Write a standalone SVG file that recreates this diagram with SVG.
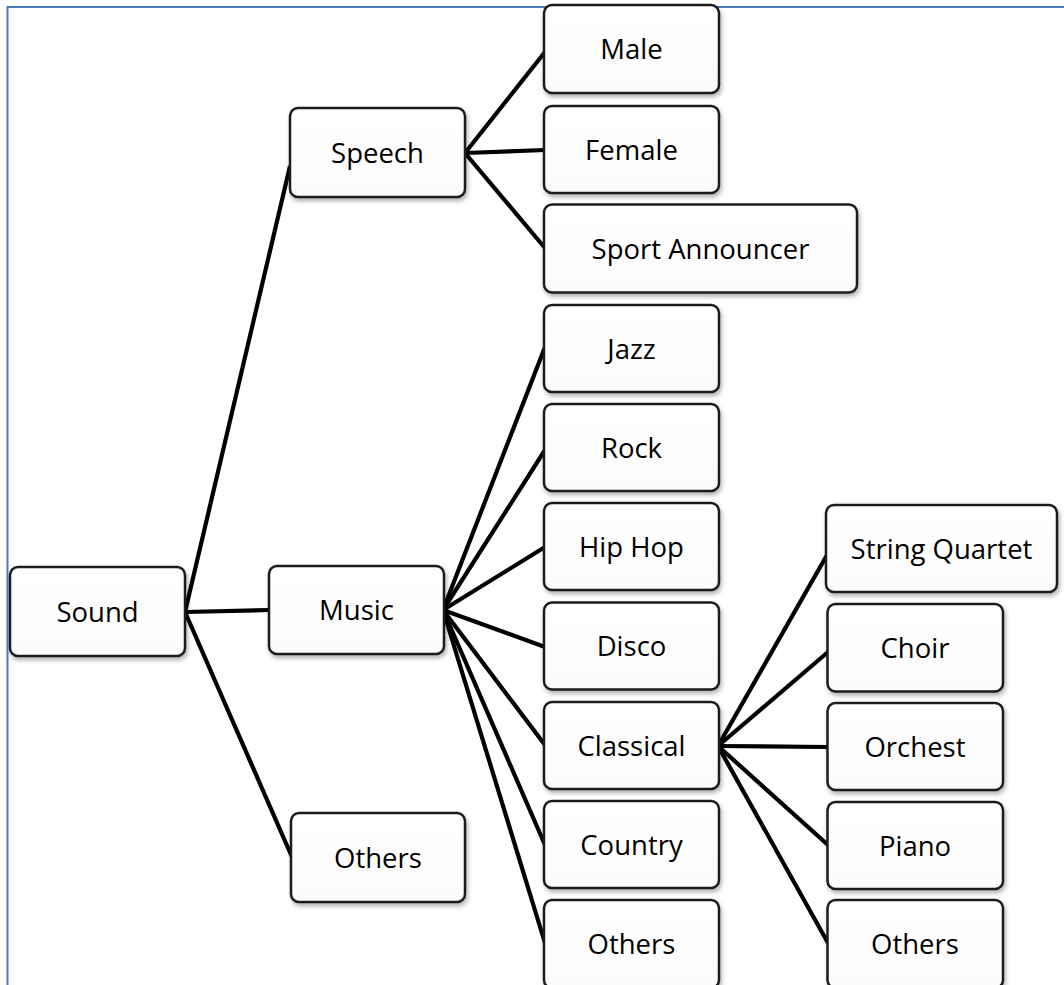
<svg xmlns="http://www.w3.org/2000/svg" width="1064" height="985" viewBox="0 0 1064 985">
  <defs>
    <filter id="shadow" x="-10%" y="-10%" width="125%" height="130%">
      <feDropShadow dx="1.5" dy="3" stdDeviation="2" flood-color="#000" flood-opacity="0.3"/>
    </filter>
    <linearGradient id="boxFill" x1="0" y1="0" x2="0" y2="1">
      <stop offset="0" stop-color="#ffffff"/>
      <stop offset="1" stop-color="#fbfbfb"/>
    </linearGradient>
  </defs>
  <style>
    .frame { fill: none; stroke: #4a7ebb; stroke-width: 2; }
    .box { fill: url(#boxFill); stroke: #1c1c1c; stroke-width: 2.5; filter: url(#shadow); }
    .label { font-family: "Open Sans", "Liberation Sans", sans-serif; font-size: 27.5px; fill: #000; text-anchor: middle; }
    .link { fill: none; stroke: #000; stroke-width: 4.2; stroke-linecap: butt; }
  </style>

  <rect width="1064" height="985" fill="#ffffff"/>
  <!-- page frame -->
  <path class="frame" d="M7.5,985 V7 H1064"/>

  <!-- connectors -->
  <g id="connectors">
    <!-- Sound -->
    <line class="link" x1="185" y1="612" x2="290" y2="166"/>
    <line class="link" x1="185" y1="612" x2="270" y2="610"/>
    <line class="link" x1="185" y1="612" x2="292" y2="857"/>
    <!-- Speech -->
    <line class="link" x1="465" y1="153" x2="545" y2="52"/>
    <line class="link" x1="465" y1="153" x2="545" y2="150"/>
    <line class="link" x1="465" y1="153" x2="545" y2="248"/>
    <!-- Music -->
    <line class="link" x1="443" y1="610" x2="545" y2="347"/>
    <line class="link" x1="443" y1="610" x2="545" y2="450"/>
    <line class="link" x1="443" y1="610" x2="545" y2="547"/>
    <line class="link" x1="443" y1="610" x2="545" y2="647"/>
    <line class="link" x1="443" y1="610" x2="545" y2="745"/>
    <line class="link" x1="443" y1="610" x2="545" y2="845"/>
    <line class="link" x1="443" y1="610" x2="545" y2="943"/>
    <!-- Classical -->
    <line class="link" x1="718" y1="746" x2="827" y2="555"/>
    <line class="link" x1="718" y1="746" x2="828" y2="652"/>
    <line class="link" x1="718" y1="746" x2="828" y2="747"/>
    <line class="link" x1="718" y1="746" x2="828" y2="845"/>
    <line class="link" x1="718" y1="746" x2="828" y2="943"/>
  </g>

  <!-- level 1 -->
  <g id="node-sound">
    <rect class="box" x="10" y="567" width="175" height="89" rx="8"/>
    <text class="label" x="97.5" y="621.5">Sound</text>
  </g>

  <!-- level 2 -->
  <g id="node-speech">
    <rect class="box" x="290" y="108" width="175" height="89" rx="8"/>
    <text class="label" x="377.5" y="162.5">Speech</text>
  </g>
  <g id="node-music">
    <rect class="box" x="269" y="566" width="175" height="88" rx="8"/>
    <text class="label" x="356.5" y="620">Music</text>
  </g>
  <g id="node-others-sound">
    <rect class="box" x="291" y="813" width="174" height="89" rx="8"/>
    <text class="label" x="378" y="867.5">Others</text>
  </g>

  <!-- level 3: speech -->
  <g id="node-male">
    <rect class="box" x="544" y="5" width="175" height="88" rx="8"/>
    <text class="label" x="631.5" y="59">Male</text>
  </g>
  <g id="node-female">
    <rect class="box" x="544" y="106" width="175" height="87" rx="8"/>
    <text class="label" x="631.5" y="159.5">Female</text>
  </g>
  <g id="node-sport-announcer">
    <rect class="box" x="544" y="204.5" width="313" height="88" rx="8"/>
    <text class="label" x="700.5" y="258.5">Sport Announcer</text>
  </g>

  <!-- level 3: music -->
  <g id="node-jazz">
    <rect class="box" x="544" y="305" width="175" height="87" rx="8"/>
    <text class="label" x="631.5" y="358.5">Jazz</text>
  </g>
  <g id="node-rock">
    <rect class="box" x="544" y="404" width="175" height="87" rx="8"/>
    <text class="label" x="631.5" y="457.5">Rock</text>
  </g>
  <g id="node-hiphop">
    <rect class="box" x="544" y="503" width="175" height="87" rx="8"/>
    <text class="label" x="631.5" y="556.5">Hip Hop</text>
  </g>
  <g id="node-disco">
    <rect class="box" x="544" y="602.5" width="175" height="87" rx="8"/>
    <text class="label" x="631.5" y="656">Disco</text>
  </g>
  <g id="node-classical">
    <rect class="box" x="544" y="702" width="175" height="87" rx="8"/>
    <text class="label" x="631.5" y="755.5">Classical</text>
  </g>
  <g id="node-country">
    <rect class="box" x="544" y="801" width="175" height="87" rx="8"/>
    <text class="label" x="631.5" y="854.5">Country</text>
  </g>
  <g id="node-others-music">
    <rect class="box" x="544" y="900" width="175" height="88" rx="8"/>
    <text class="label" x="631.5" y="953.5">Others</text>
  </g>

  <!-- level 4: classical -->
  <g id="node-string-quartet">
    <rect class="box" x="826" y="505" width="231" height="87" rx="8"/>
    <text class="label" x="941.5" y="558.5">String Quartet</text>
  </g>
  <g id="node-choir">
    <rect class="box" x="827.5" y="604" width="175.5" height="87.5" rx="8"/>
    <text class="label" x="915" y="657.5">Choir</text>
  </g>
  <g id="node-orchest">
    <rect class="box" x="827.5" y="703" width="175.5" height="87" rx="8"/>
    <text class="label" x="915" y="756.5">Orchest</text>
  </g>
  <g id="node-piano">
    <rect class="box" x="827.5" y="802" width="175.5" height="87" rx="8"/>
    <text class="label" x="915" y="855.5">Piano</text>
  </g>
  <g id="node-others-classical">
    <rect class="box" x="827.5" y="900" width="175.5" height="88" rx="8"/>
    <text class="label" x="915" y="953.5">Others</text>
  </g>
</svg>
